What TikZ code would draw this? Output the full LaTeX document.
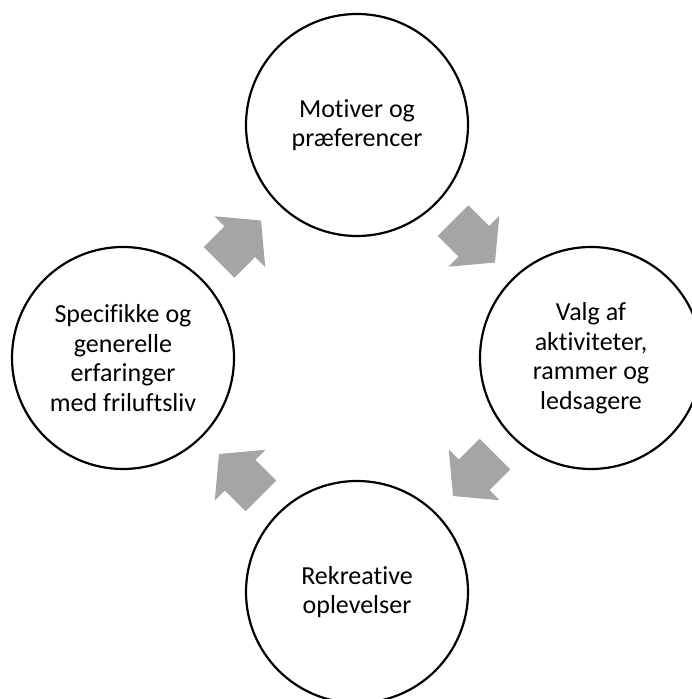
\documentclass[tikz,border=0pt]{standalone}
\usepackage{fontspec}
\setmainfont[Ligatures={NoCommon}]{Carlito}
\usetikzlibrary{calc}
\definecolor{arrowgray}{HTML}{A5A5A5}
\tikzset{
  stage/.style={circle, draw=black, line width=2.2pt, fill=white, minimum size=222pt, inner sep=0pt, align=center, font=\fontsize{26}{29.5}\selectfont},
  cyc/.pic={\fill[arrowgray] (-29.6,-21.6) -- (-0.3,-21.6) -- (-0.3,-36) -- (29.7,0) -- (-0.3,36) -- (-0.3,21.6) -- (-29.6,21.6) -- cycle;}
}
\begin{document}
\begin{tikzpicture}[x=1pt,y=1pt]
\useasboundingbox (0,0) rectangle (692,699);
\begin{scope}
\clip (0,0) rectangle (692,699);
\node[stage] (t) at (357,574) {Motiver og\\præferencer};
\node[stage] (r) at (591,341) {Valg af\\aktiviteter,\\rammer og\\ledsagere};
\node[stage] (b) at (357,107) {Rekreative\\oplevelser};
\node[stage] (l) at (123,341) {Specifikke og\\generelle\\erfaringer\\med friluftsliv};
\path ($(l)!0.5!(t)$) pic[rotate=45] {cyc};
\path ($(t)!0.5!(r)$) pic[rotate=-45] {cyc};
\path ($(r)!0.5!(b)$) pic[rotate=-135] {cyc};
\path ($(b)!0.5!(l)$) pic[rotate=135] {cyc};
\end{scope}
\end{tikzpicture}
\end{document}
